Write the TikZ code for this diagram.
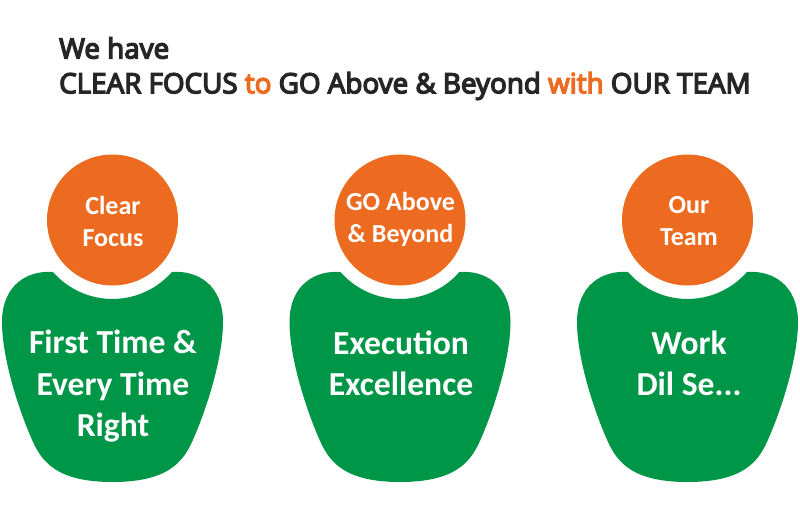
\documentclass[tikz,border=0pt]{standalone}
\usepackage{fontspec}
\setmainfont{Open Sans}
\newfontfamily\headfont[FakeBold=5]{Open Sans}
\newfontfamily\labelfont{Carlito}
\definecolor{headorange}{HTML}{ED6B21}
\definecolor{bodygreen}{HTML}{009647}
\definecolor{headtext}{HTML}{262626}
\tikzset{
  x=1pt,y=-1pt,
  headcircle/.style={circle,fill=headorange,draw=none,minimum size=131pt,inner sep=0pt},
  torso/.style={fill=bodygreen,draw=none},
  small/.style={text=white,align=center,font=\labelfont\bfseries\fontsize{26}{32}\selectfont},
  big/.style={text=white,align=center,font=\labelfont\bfseries\fontsize{33.6}{41.5}\selectfont},
  title/.style={anchor=west,text=headtext,font=\headfont\fontsize{27.8}{30}\selectfont,inner sep=0pt},
  pics/person/.style={code={
    \path[torso] (-59.5,272)
      arc[start angle=138.8,end angle=41.2,x radius=79,y radius=79]
      .. controls (85,270) and (110.5,285) .. (110.5,322)
      .. controls (110.5,360) and (92,415) .. (79,443)
      .. controls (70,462) and (55,482) .. (0,482)
      .. controls (-55,482) and (-70,462) .. (-79,443)
      .. controls (-92,415) and (-110.5,360) .. (-110.5,322)
      .. controls (-110.5,285) and (-85,270) .. (-59.5,272) -- cycle;
  }}
}
\begin{document}
\begin{tikzpicture}
\useasboundingbox (0,0) rectangle (800,517);
\pic at (112.5,0) {person};
\pic at (400,0) {person};
\pic at (687.5,0) {person};
\node[headcircle] (h1) at (112.5,220) {};
\node[headcircle] (h2) at (400,220) {};
\node[headcircle] (h3) at (687.5,220) {};
\node[small] (c1) at (113,221.5) {Clear\\Focus};
\node[small] (c2) at (400.5,219) {GO Above\\\& Beyond};
\node[small] (c3) at (689,221) {Our\\Team};
\node[big] (t1) at (113,386.5) {First Time \&\\Every Time\\Right};
\node[big] (t2) at (401,363.5) {Execution\\Excellence};
\node[big] (t3) at (689,363.5) {Work\\Dil Se...};
\node[title] (l1) at (59,48) {We have};
\node[title] (l2) at (59,86) {CLEAR FOCUS \textcolor{headorange}{to} GO Above \& Beyond \textcolor{headorange}{with} OUR TEAM};
\end{tikzpicture}
\end{document}
